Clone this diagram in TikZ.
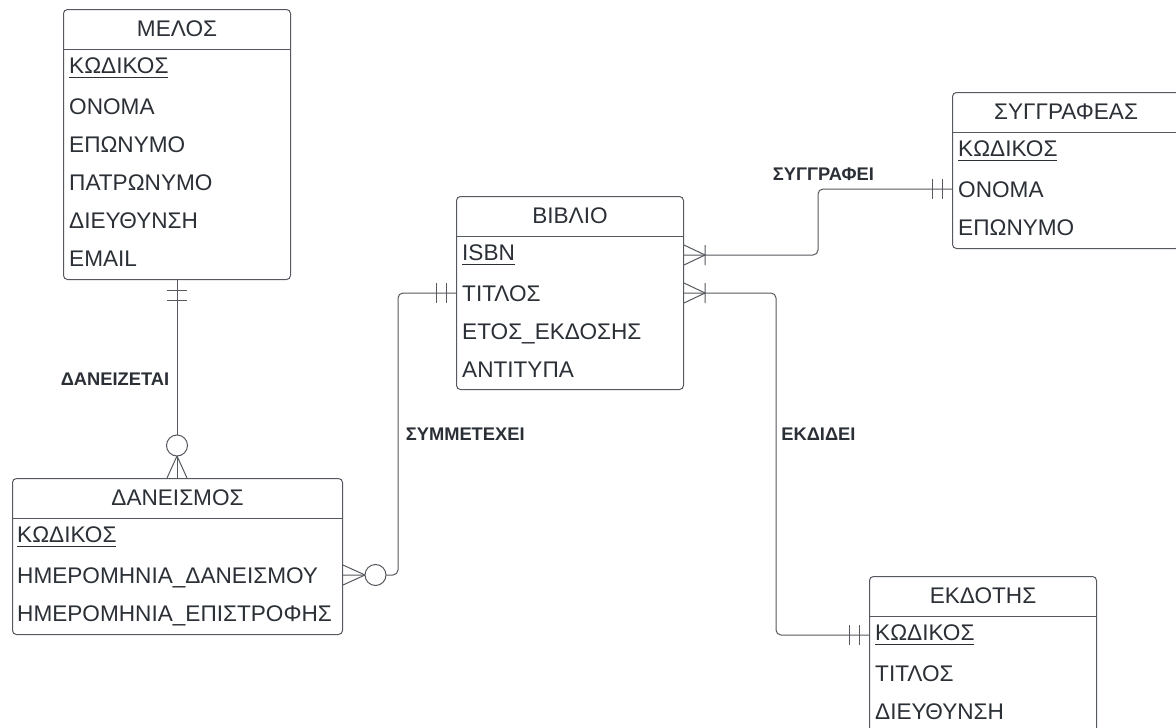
\documentclass[tikz,border=0pt]{standalone}
\usepackage{fontspec}
\setmainfont{Liberation Sans}
\definecolor{ink}{HTML}{2B2F36}
\definecolor{edge}{HTML}{55595F}
\newcommand{\pk}[1]{\raisebox{3pt}{\underline{#1\rule[-3pt]{0pt}{0pt}}}}
\tikzset{
  entity/.style={draw=edge, line width=1pt, rounded corners=4pt, fill=white,
    anchor=north west, inner sep=0pt, minimum width=227pt},
  head/.style={font=\fontsize{22.6}{26}\selectfont, text=ink},
  attr/.style={font=\fontsize{22.6}{26}\selectfont, text=ink, anchor=west,
    inner sep=0pt, text height=16.2pt, text depth=0pt},
  relname/.style={font=\bfseries\fontsize{18.3}{21}\selectfont, text=ink},
  link/.style={draw=edge, line width=1pt, rounded corners=5pt},
  onlyone/.pic={\draw[edge, line width=1pt] (10pt,-10pt) -- (10pt,10pt) (20pt,-10pt) -- (20pt,10pt);},
  onemany/.pic={\draw[edge, line width=1pt] (0pt,10pt) -- (21pt,0pt) -- (0pt,-10pt) (21pt,-10pt) -- (21pt,10pt);},
  zeromany/.pic={\draw[edge, line width=1pt] (0pt,10pt) -- (22pt,0pt) -- (0pt,-10pt);
    \draw[edge, line width=1pt, fill=white] (32.5pt,0pt) circle (10.5pt);}
}
\begin{document}
\begin{tikzpicture}[x=1pt, y=-1pt]
  \path[fill=white, use as bounding box] (0,0) rectangle (1176,728);

  % tables
  \node[entity, minimum height=270pt] (melos) at (63,9) {};
  \node[entity, minimum width=330pt, minimum height=156pt] (daneismos) at (12,478) {};
  \node[entity, minimum height=193pt] (bivlio) at (456,196) {};
  \node[entity, minimum height=156pt] (syggrafeas) at (952,92) {};
  \node[entity, minimum height=156pt] (ekdotis) at (869,576) {};

  \foreach \t in {melos, daneismos, bivlio, syggrafeas, ekdotis}
    \draw[edge, line width=1pt] ([yshift=-40pt]\t.north west) -- ([yshift=-40pt]\t.north east);

  \node[head] (melos-head) at ([yshift=-20pt]melos.north) {ΜΕΛΟΣ};
  \node[head] (daneismos-head) at ([yshift=-20pt]daneismos.north) {ΔΑΝΕΙΣΜΟΣ};
  \node[head] (bivlio-head) at ([yshift=-20pt]bivlio.north) {ΒΙΒΛΙΟ};
  \node[head] (syggrafeas-head) at ([yshift=-20pt]syggrafeas.north) {ΣΥΓΓΡΑΦΕΑΣ};
  \node[head] (ekdotis-head) at ([yshift=-20pt]ekdotis.north) {ΕΚΔΟΤΗΣ};

  \node[attr] (melos-0) at ([xshift=6pt, yshift=-59pt]melos.north west) {\pk{ΚΩΔΙΚΟΣ}};
  \foreach \a [count=\i] in {ΟΝΟΜΑ, ΕΠΩΝΥΜΟ, ΠΑΤΡΩΝΥΜΟ, ΔΙΕΥΘΥΝΣΗ, EMAIL}
    \node[attr] (melos-\i) at ([xshift=6pt, yshift={-(59+38*\i)*1pt}]melos.north west) {\a};

  \node[attr] (daneismos-0) at ([xshift=5pt, yshift=-59pt]daneismos.north west) {\pk{ΚΩΔΙΚΟΣ}};
  \foreach \a [count=\i] in {ΗΜΕΡΟΜΗΝΙΑ\_ΔΑΝΕΙΣΜΟΥ, ΗΜΕΡΟΜΗΝΙΑ\_ΕΠΙΣΤΡΟΦΗΣ}
    \node[attr] (daneismos-\i) at ([xshift=5pt, yshift={-(59+38*\i)*1pt}]daneismos.north west) {\a};

  \node[attr] (bivlio-0) at ([xshift=6pt, yshift=-59pt]bivlio.north west) {\pk{ISBN}};
  \foreach \a [count=\i] in {ΤΙΤΛΟΣ, ΕΤΟΣ\_ΕΚΔΟΣΗΣ, ΑΝΤΙΤΥΠΑ}
    \node[attr] (bivlio-\i) at ([xshift=6pt, yshift={-(59+38*\i)*1pt}]bivlio.north west) {\a};

  \node[attr] (syggrafeas-0) at ([xshift=6pt, yshift=-59pt]syggrafeas.north west) {\pk{ΚΩΔΙΚΟΣ}};
  \foreach \a [count=\i] in {ΟΝΟΜΑ, ΕΠΩΝΥΜΟ}
    \node[attr] (syggrafeas-\i) at ([xshift=6pt, yshift={-(59+38*\i)*1pt}]syggrafeas.north west) {\a};

  \node[attr] (ekdotis-0) at ([xshift=6pt, yshift=-59pt]ekdotis.north west) {\pk{ΚΩΔΙΚΟΣ}};
  \foreach \a [count=\i] in {ΤΙΤΛΟΣ, ΔΙΕΥΘΥΝΣΗ}
    \node[attr] (ekdotis-\i) at ([xshift=6pt, yshift={-(59+38*\i)*1pt}]ekdotis.north west) {\a};

  % relationships
  \draw[link] (melos.south) -- node[relname, left=4pt] {ΔΑΝΕΙΖΕΤΑΙ} (melos.south |- daneismos.north);
  \draw[link] (daneismos.east |- daneismos-1) -| ([xshift=-58pt]bivlio.west |- bivlio-1)
    node[relname, right=4pt, pos=0.75] {ΣΥΜΜΕΤΕΧΕΙ} -- (bivlio.west |- bivlio-1);
  \draw[link] (bivlio.east |- bivlio-0) -| ([xshift=-134pt]syggrafeas.west |- syggrafeas-1)
    -- node[relname, above=5pt, pos=0.04] {ΣΥΓΓΡΑΦΕΙ} (syggrafeas.west |- syggrafeas-1);
  \draw[link] (bivlio.east |- bivlio-1) -| ([xshift=-93pt]ekdotis.west |- ekdotis-0)
    node[relname, right=1.5pt, pos=0.707] {ΕΚΔΙΔΕΙ} -- (ekdotis.west |- ekdotis-0);

  % cardinalities
  \pic[rotate=-90] at (melos.south) {onlyone};
  \pic[rotate=90] at (melos.south |- daneismos.north) {zeromany};
  \pic at (daneismos.east |- daneismos-1) {zeromany};
  \pic[rotate=180] at (bivlio.west |- bivlio-1) {onlyone};
  \pic at (bivlio.east |- bivlio-0) {onemany};
  \pic at (bivlio.east |- bivlio-1) {onemany};
  \pic[rotate=180] at (syggrafeas.west |- syggrafeas-1) {onlyone};
  \pic[rotate=180] at (ekdotis.west |- ekdotis-0) {onlyone};
\end{tikzpicture}
\end{document}
